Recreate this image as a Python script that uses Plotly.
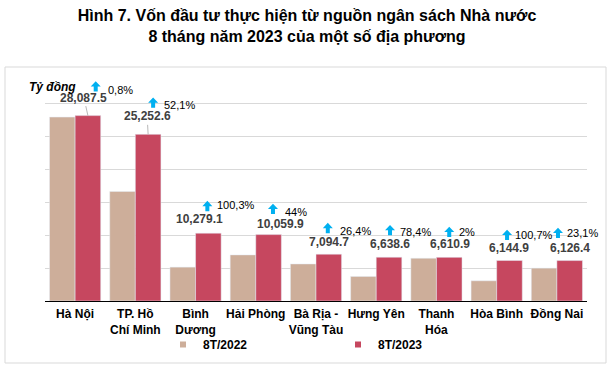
import plotly.graph_objects as go

# ---------------- data ----------------
categories = ["Hà Nội", "TP. Hồ<br>Chí Minh", "Bình<br>Dương", "Hải Phòng", "Bà Rịa -<br>Vũng Tàu",
              "Hưng Yên", "Thanh<br>Hóa", "Hòa Bình", "Đồng Nai"]
values_2022 = [27865, 16602, 5132, 6986, 5613, 3721, 6481, 3062, 4977]
values_2023 = [28087.5, 25252.6, 10279.1, 10059.9, 7094.7, 6638.6, 6610.9, 6144.9, 6126.4]
growth_labels = ["0,8%", "52,1%", "100,3%", "44%", "26,4%", "78,4%", "2%", "100,7%", "23,1%"]
series_names = ["8T/2022", "8T/2023"]
y_ticks = [0, 5000, 10000, 15000, 20000, 25000, 30000]

# ---------------- label layout (pixel offsets from top of 2023 bar) ----------------
val_dx = [-4, -1, -9, 12, 0, 1, 1, 0, 0]
val_dy = [18, 18, 14, 11, 12, 13, 13, 12, 12.6]
leader = [True, True, False, False, False, False, False, False, False]
icon_dx = [7.8, 5, -1, 4.4, -1, 1, 0, -2.4, -11.7]
icon_dy = [29, 31.6, 27, 25.6, 26, 27, 25.4, 25.4, 27.6]
pct_dx = [18, 13.9, 6.7, 14.7, 9.5, 8.7, 7.5, 3.9, -4.7]
pct_dy = [25.6, 29.3, 27.9, 22.3, 23.5, 25.5, 25.1, 25.4, 27.6]

COL22 = "#CDAE9A"
COL23 = "#C6475F"
ICON = "#00B0F0"
FONT = "Liberation Sans, Arial, sans-serif"

W, H = 614, 367
BASE_Y = 301          # pixel row of the value-0 baseline
TOP30K = 103          # pixel row of the 30 000 gridline
L, R, T = 45, 27, 70
B = H - BASE_Y
PW, PH = W - L - R, H - T - B
Y_MAX = 30000 * PH / (BASE_Y - TOP30K)
BARGAP = 0.15
bar_off = (1 - BARGAP) / 4  # center of 2nd bar in category units

def px2paper_x(px):
    return (px - L) / PW

def px2paper_y(py):
    return (H - B - py) / PH

idx = list(range(len(categories)))

fig = go.Figure()
fig.add_trace(go.Bar(x=idx, y=values_2022, name=series_names[0], marker_color=COL22,
                     showlegend=False, legendgroup="a"))
fig.add_trace(go.Bar(x=idx, y=values_2023, name=series_names[1], marker_color=COL23,
                     showlegend=False, legendgroup="b"))
# legend proxies (small square symbols)
fig.add_trace(go.Scatter(x=[None], y=[None], mode="markers", name=series_names[0],
                         marker=dict(symbol="square", size=6, color=COL22), legendgroup="a"))
fig.add_trace(go.Scatter(x=[None], y=[None], mode="markers", name=series_names[1],
                         marker=dict(symbol="square", size=6, color=COL23), legendgroup="b"))

annotations = []
shapes = []
for i, v in enumerate(values_2023):
    xc = i + bar_off
    if leader[i]:
        annotations.append(dict(x=xc, y=v, xref="x", yref="y", text=f"{v:,.1f}",
                                showarrow=True, arrowhead=0, arrowwidth=0.8, arrowcolor="#A6A6A6",
                                ax=val_dx[i], ay=-val_dy[i],
                                font=dict(family=FONT, size=12, color="#404040", weight="bold")))
    else:
        annotations.append(dict(x=xc, y=v, xref="x", yref="y", text=f"{v:,.1f}",
                                showarrow=False, xshift=val_dx[i], yshift=val_dy[i],
                                xanchor="center", yanchor="middle",
                                font=dict(family=FONT, size=12, color="#404040", weight="bold")))
    annotations.append(dict(x=xc, y=v, xref="x", yref="y", text=growth_labels[i],
                            showarrow=False, xshift=pct_dx[i], yshift=pct_dy[i],
                            xanchor="left", yanchor="middle",
                            font=dict(family=FONT, size=11, color="#000000")))
    cx, cy = icon_dx[i], icon_dy[i]
    path = (f"M{cx-5},{cy} L{cx},{cy+5.3} L{cx+5},{cy} L{cx+2},{cy} L{cx+2},{cy-5} "
            f"L{cx-2},{cy-5} L{cx-2},{cy} Z")
    shapes.append(dict(type="path", xref="x", yref="y", xsizemode="pixel", ysizemode="pixel",
                       xanchor=xc, yanchor=v, path=path, fillcolor=ICON, line=dict(width=0)))

annotations.append(dict(x=px2paper_x(27), y=px2paper_y(87), xref="paper", yref="paper",
                        text="<b><i>Tỷ đồng</i></b>", showarrow=False, xanchor="left", yanchor="middle",
                        font=dict(family=FONT, size=12, color="#000000")))

shapes.append(dict(type="rect", xref="paper", yref="paper",
                   x0=px2paper_x(5), x1=px2paper_x(606), y0=px2paper_y(363), y1=px2paper_y(67),
                   line=dict(color="#D9D9D9", width=1), fillcolor="rgba(0,0,0,0)", layer="below"))

fig.update_layout(
    width=W, height=H,
    margin=dict(l=L, r=R, t=T, b=B, autoexpand=False),
    paper_bgcolor="white", plot_bgcolor="white",
    barmode="group", bargap=BARGAP, bargroupgap=0,
    title=dict(text="Hình 7. Vốn đầu tư thực hiện từ nguồn ngân sách Nhà nước<br>8 tháng năm 2023 của một số địa phương",
               x=0.5, xanchor="center", y=1 - 21 / H, yanchor="middle",
               font=dict(family=FONT, size=16, color="#000000", weight="bold")),
    font=dict(family=FONT, color="#000000"),
    xaxis=dict(tickvals=idx, ticktext=[f"<b>{c}</b>" for c in categories], range=[-0.5, len(idx) - 0.5],
               showline=True, linecolor="#000000", linewidth=1, ticks="", showgrid=False, automargin=False,
               ticklabelstandoff=2,
               tickfont=dict(family=FONT, size=12, color="#000000"), zeroline=False),
    yaxis=dict(range=[0, Y_MAX], tickvals=y_ticks, showticklabels=False, showgrid=True, automargin=False,
               gridcolor="#D9D9D9", gridwidth=1, zeroline=False, showline=False, ticks=""),
    legend=dict(orientation="h", xref="container", yref="container",
                x=163 / W, xanchor="left", y=1 - 344.5 / H, yanchor="middle",
                entrywidthmode="pixels", entrywidth=130, itemwidth=30,
                font=dict(family=FONT, size=12, color="#000000", weight="bold"),
                bgcolor="rgba(0,0,0,0)"),
    annotations=annotations, shapes=shapes,
    showlegend=True,
)

fig.write_html("out.html", config={"displayModeBar": False},
               post_script="document.body.style.margin='0px';")
